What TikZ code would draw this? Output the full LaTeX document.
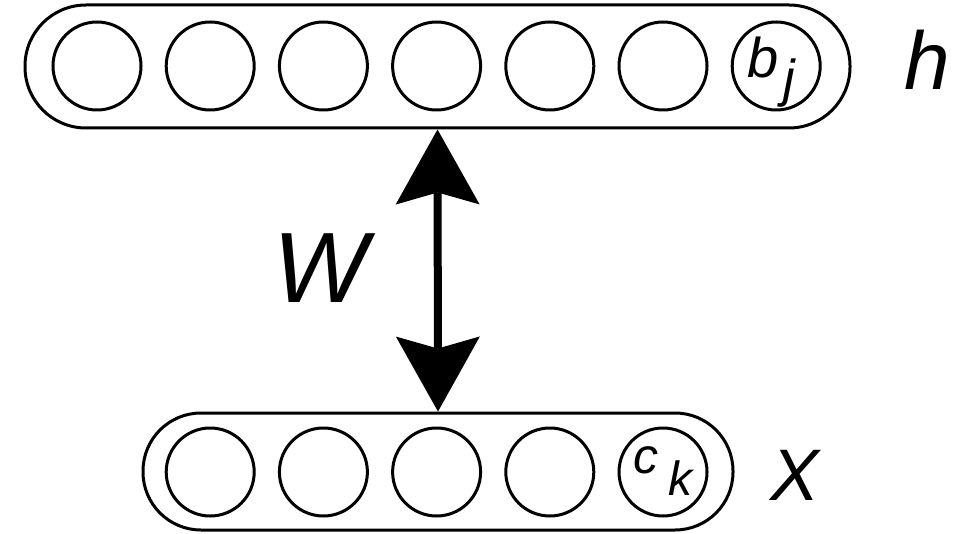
\documentclass[tikz,border=0pt]{standalone}
\usepackage{fontspec}
\setmainfont{Liberation Sans}
\usetikzlibrary{arrows.meta}
\begin{document}
\begin{tikzpicture}[x=1pt,y=-1pt,
  layer/.style={draw,line width=3pt,rounded corners=#1,inner sep=0pt},
  unit/.style={draw,circle,line width=3pt,minimum size=88pt,inner sep=0pt},
  lbl/.style={anchor=base,inner sep=0pt,font=\itshape},
  weights/.style={line width=8pt,
    {Stealth[length=75pt,width=84pt,inset=12pt,line width=0pt]}-{Stealth[length=75pt,width=84pt,inset=12pt,line width=0pt]}}]
\useasboundingbox (0,0) rectangle (968,534);

% hidden layer
\node[layer=61pt,minimum width=825pt,minimum height=123pt] (hid) at (437.5,66.5) {};
\foreach \i in {0,...,6}
  \node[unit] (h\i) at ({97+113.2*\i},66) {};
\node[lbl,font=\itshape\fontsize{56}{56}\selectfont] (bj) at (763,78) {b};
\node[lbl,font=\itshape\fontsize{52}{52}\selectfont] (bjsub) at (789,97) {j};
\node[lbl,font=\itshape\fontsize{82}{82}\selectfont] (hlab) at (927,90) {h};

% visible layer
\node[layer=58pt,minimum width=590pt,minimum height=117pt] (vis) at (438,471.5) {};
\foreach \i in {1,...,5}
  \node[unit] (v\i) at ({97+113.2*\i},472) {};
\node[lbl,font=\itshape\fontsize{50}{50}\selectfont] (ck) at (646,473) {c};
\node[lbl,font=\itshape\fontsize{48}{48}\selectfont] (cksub) at (680,495) {k};
\node[lbl,font=\itshape\fontsize{73}{73}\selectfont] (xlab) at (795,500) {X};

% weights between the layers
\draw[weights] (hid.south) -- (vis.north);
\node[lbl,font=\itshape\fontsize{100}{100}\selectfont] (wlab) at (321,302) {W};
\end{tikzpicture}
\end{document}
